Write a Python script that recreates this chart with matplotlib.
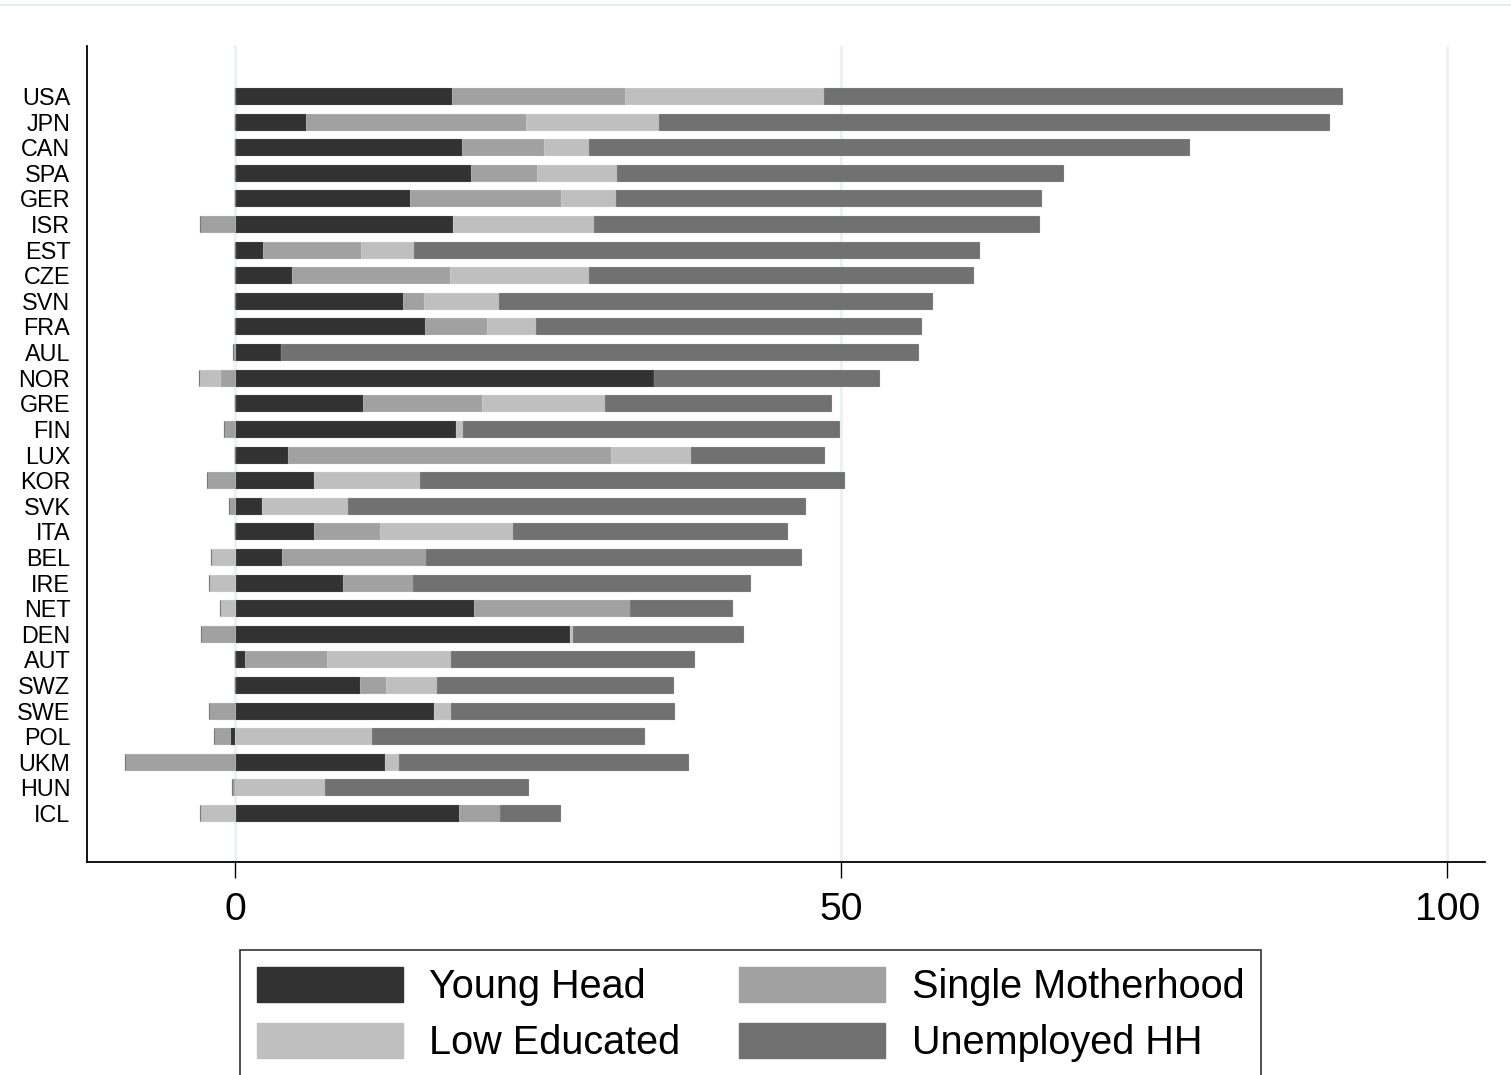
import numpy as np
import matplotlib
matplotlib.use("Agg")
import matplotlib.pyplot as plt
from matplotlib.lines import Line2D
from matplotlib.patches import Patch

# ---------------- data ----------------
countries = ["USA", "JPN", "CAN", "SPA", "GER", "ISR", "EST", "CZE", "SVN", "FRA",
             "AUL", "NOR", "GRE", "FIN", "LUX", "KOR", "SVK", "ITA", "BEL", "IRE",
             "NET", "DEN", "AUT", "SWZ", "SWE", "POL", "UKM", "HUN", "ICL"]

young_head = [17.9, 5.9, 18.7, 19.5, 14.4, 18.0, 2.3, 4.7, 13.9, 15.7,
              3.8, 34.6, 10.6, 18.2, 4.4, 6.5, 2.2, 6.5, 3.9, 8.9,
              19.7, 27.6, 0.8, 10.3, 16.4, -0.4, 12.4, 0.0, 18.5]
single_motherhood = [14.3, 18.1, 6.8, 5.4, 12.5, -2.9, 8.1, 13.0, 1.7, 5.1,
                     -0.15, -1.2, 9.8, -0.9, 26.6, -2.3, -0.5, 5.5, 11.9, 5.8,
                     12.9, -2.8, 6.8, 2.2, -2.1, -1.3, -9.1, -0.2, 3.4]
low_educated = [16.4, 11.0, 3.7, 6.6, 4.5, 11.6, 4.4, 11.5, 6.2, 4.0,
                0.0, -1.8, 10.1, 0.6, 6.6, 8.8, 7.1, 10.9, -2.0, -2.1,
                -1.2, 0.3, 10.2, 4.2, 1.4, 11.3, 1.1, 7.4, -2.9]
unemployed_hh = [42.7, 55.2, 49.5, 36.8, 35.1, 36.7, 46.6, 31.7, 35.7, 31.8,
                 52.5, 18.5, 18.7, 31.0, 11.0, 34.9, 37.7, 22.6, 30.9, 27.8,
                 8.4, 14.0, 20.1, 19.4, 18.4, 22.4, 23.9, 16.8, 4.9]

series_names = ["Young Head", "Single Motherhood", "Low Educated", "Unemployed HH"]
xtick_values = [0, 50, 100]

# ---------------- style ----------------
colors = ["#323232", "#a1a1a1", "#bfbfbf", "#717171"]
edge_colors = ["#3c3c3c", "#a9a9a9", "#c6c6c6", "#7a7a7a"]
plt.rcParams["font.family"] = ["Liberation Sans", "DejaVu Sans"]

W, H = 1511, 1075
fig = plt.figure(figsize=(W / 100, H / 100), dpi=100)
ax = fig.add_axes([87 / W, 1 - 862 / H, (1485 - 87) / W, (862 - 46) / H])

n = len(countries)
ypos = np.arange(n)[::-1]  # USA at top
series = [young_head, single_motherhood, low_educated, unemployed_hh]

pos_left = np.zeros(n)
neg_left = np.zeros(n)
for vals, col, ec, name in zip(series, colors, edge_colors, series_names):
    v = np.asarray(vals, dtype=float)
    pos = np.where(v > 0, v, 0.0)
    neg = np.where(v < 0, v, 0.0)
    ax.barh(ypos, pos, left=pos_left, height=0.625, color=col,
            edgecolor=ec, linewidth=0.8, zorder=2)
    ax.barh(ypos, neg, left=neg_left, height=0.625, color=col,
            edgecolor=ec, linewidth=0.8, zorder=2)
    pos_left += pos
    neg_left += neg

ax.set_xlim(-12.2, 103.1)
ax.set_ylim(-1.91, 29.95)

ax.set_yticks(ypos)
ax.set_yticklabels(countries, fontsize=16.8)
ax.tick_params(axis="y", length=0, pad=12)

ax.set_xticks(xtick_values)
ax.set_xticklabels([str(v) for v in xtick_values], fontsize=28.2)
ax.tick_params(axis="x", length=11.5, width=1.0, pad=10, direction="out")

for xv in xtick_values:
    ax.axvline(xv, color="#eaf2f3", linewidth=2.2, zorder=0)

for s in ["top", "right"]:
    ax.spines[s].set_visible(False)
for s in ["left", "bottom"]:
    ax.spines[s].set_linewidth(1.3)
    ax.spines[s].set_color("black")

# thin light border line at top of figure
fig.add_artist(Line2D([0, 1], [1 - 5 / H, 1 - 5 / H], transform=fig.transFigure,
                      color="#e6eded", linewidth=1.5))

handles = [Patch(facecolor=c, edgecolor=c) for c in colors]
# row-wise: Young Head, Single Motherhood / Low Educated, Unemployed HH
order = [0, 2, 1, 3]
leg = fig.legend([handles[i] for i in order], [series_names[i] for i in order],
                 ncol=2, loc="upper left",
                 bbox_to_anchor=(240 / W, 1 - 950 / H),
                 bbox_transform=fig.transFigure,
                 fontsize=28.5, frameon=True, fancybox=False,
                 edgecolor="black", borderaxespad=0,
                 handlelength=3.69, handleheight=1.0, handletextpad=0.66,
                 columnspacing=1.5, labelspacing=0.42, borderpad=0.42)
leg.get_frame().set_linewidth(1.2)

fig.savefig("out.png", dpi=100)
